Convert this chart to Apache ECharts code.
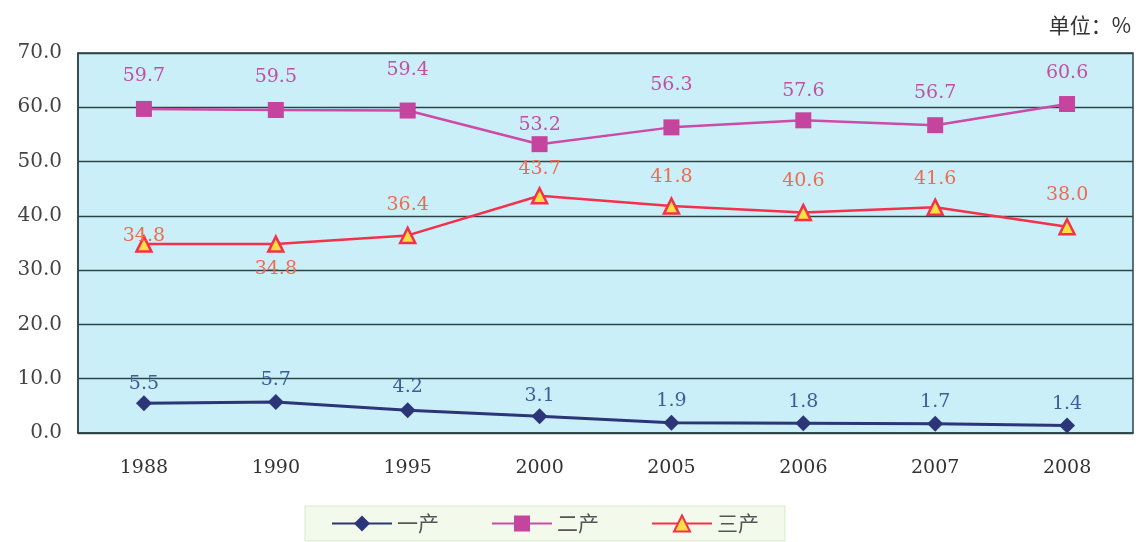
<!DOCTYPE html>
<html>
<head>
<meta charset="utf-8">
<script src="https://cdn.jsdelivr.net/npm/echarts@6/dist/echarts.min.js"></script>
<style>
  html,body{margin:0;padding:0;background:#fff;}
  #chart{width:1141px;height:542px;}
</style>
</head>
<body>
<div id="chart"></div>
<script>
  // 年份
  var years = ['1988', '1990', '1995', '2000', '2005', '2006', '2007', '2008'];
  // 三次产业构成 %
  var yiChan = [5.5, 5.7, 4.2, 3.1, 1.9, 1.8, 1.7, 1.4];
  var erChan = [59.7, 59.5, 59.4, 53.2, 56.3, 57.6, 56.7, 60.6];
  var sanChan = [34.8, 34.8, 36.4, 43.7, 41.8, 40.6, 41.6, 38.0];
  var yTicks = [0, 10, 20, 30, 40, 50, 60, 70];

  var serif = '"DejaVu Serif", "Liberation Serif", serif';

  // 标签中心离点的距离，个别点单独调
  var erOffset = [32, 32, 40, 19, 42, 29, 32, 30];
  var sanOffset = [7, -26, 29, 25, 28, 30, 27, 30];
  var yiOffset = [19, 21, 23, 20, 21, 21, 21, 21];

  function withLabels(arr, offs) {
    return arr.map(function (v, i) {
      return {
        value: v,
        label: { offset: [0, 22 - offs[i]] }
      };
    });
  }

  var chart = echarts.init(document.getElementById('chart'));
  var option = {
    backgroundColor: '#ffffff',
    animation: false,
    graphic: [{
      type: 'text',
      right: 10,
      top: 15,
      style: {
        text: '单位：%',
        font: '21px "Noto Sans CJK SC"',
        fill: '#333'
      }
    }],
    grid: {
      left: 78,
      right: 8,
      top: 53,
      bottom: 109,
      show: true,
      backgroundColor: '#caeff8',
      borderColor: '#2c4446',
      borderWidth: 1.5
    },
    legend: {
      left: 305,
      top: 506,
      width: 485,
      padding: [7, 26, 7, 26],
      backgroundColor: '#f3faec',
      borderColor: '#d8e8c8',
      borderWidth: 1,
      itemWidth: 60,
      itemHeight: 20,
      itemGap: 52,
      textStyle: { fontFamily: '"Noto Sans CJK SC"', fontSize: 21, color: '#555' },
      data: ['一产', '二产', '三产']
    },
    xAxis: {
      type: 'category',
      data: years,
      boundaryGap: true,
      axisLine: { lineStyle: { color: '#2c4446', width: 1.5 } },
      axisTick: { inside: true, length: 8, lineStyle: { color: '#2c4446' } },
      axisLabel: { margin: 26, fontFamily: serif, fontSize: 19, color: '#333' }
    },
    yAxis: {
      type: 'value',
      min: 0,
      max: 70,
      interval: 10,
      axisLine: { show: true, lineStyle: { color: '#2c4446', width: 1.5 } },
      axisTick: { show: false },
      splitLine: { lineStyle: { color: '#2c4446', width: 1.3 } },
      axisLabel: {
        margin: 16,
        fontFamily: serif,
        fontSize: 20,
        color: '#444',
        formatter: function (v) { return v.toFixed(1); }
      }
    },
    series: [
      {
        name: '一产',
        type: 'line',
        data: withLabels(yiChan, yiOffset),
        symbol: 'diamond',
        symbolSize: 16,
        lineStyle: { color: '#2c3578', width: 3 },
        itemStyle: { color: '#2c3578' },
        label: { show: true, position: 'top', fontFamily: serif, fontSize: 19, color: '#3a5e9a', formatter: function (p) { return p.value.toFixed(1); } }
      },
      {
        name: '二产',
        type: 'line',
        data: withLabels(erChan, erOffset),
        symbol: 'rect',
        symbolSize: 16,
        lineStyle: { color: '#cc4aa8', width: 2.5 },
        itemStyle: { color: '#c4449e' },
        label: { show: true, position: 'top', fontFamily: serif, fontSize: 19, color: '#c050a0', formatter: function (p) { return p.value.toFixed(1); } }
      },
      {
        name: '三产',
        type: 'line',
        data: withLabels(sanChan, sanOffset),
        symbol: 'triangle',
        symbolSize: 15,
        lineStyle: { color: '#f5304a', width: 2.5 },
        itemStyle: { color: '#f8e040', borderColor: '#f5304a', borderWidth: 2.5 },
        label: { show: true, position: 'top', fontFamily: serif, fontSize: 19, color: '#f06a50', formatter: function (p) { return p.value.toFixed(1); } }
      }
    ]
  };
  chart.setOption(option);
</script>
</body>
</html>
